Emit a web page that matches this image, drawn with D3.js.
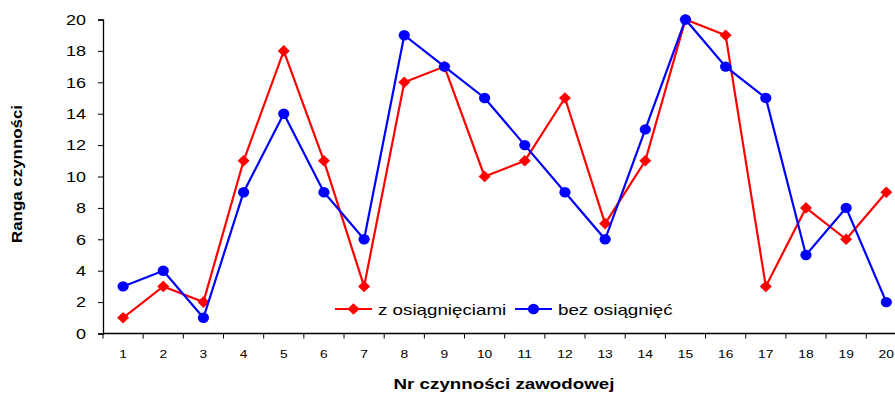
<!DOCTYPE html>
<html>
<head>
<meta charset="utf-8">
<script src="https://cdn.jsdelivr.net/npm/d3@7"></script>
<style>
  html, body { margin: 0; padding: 0; background: #fff; overflow: hidden; }
  svg { display: block; font-family: "Liberation Sans", Arial, sans-serif; }
</style>
</head>
<body>
<svg id="chart" width="895" height="394"></svg>
<script>
// Activity numbers (x axis)
const categories = d3.range(1, 21).map(String);
// Rank of each activity, two groups
const withAchievements = [1, 3, 2, 11, 18, 11, 3, 16, 17, 10, 11, 15, 7, 11, 20, 19, 3, 8, 6, 9];
const withoutAchievements = [3, 4, 1, 9, 14, 9, 6, 19, 17, 15, 12, 9, 6, 13, 20, 17, 15, 5, 8, 2];
const yTicks = [0, 2, 4, 6, 8, 10, 12, 14, 16, 18, 20];
const seriesNames = ["z osiągnięciami", "bez osiągnięć"];

const svg = d3.select("#chart");
const plotLeft = 103, plotRight = 906.4, plotTop = 19.5, plotBottom = 333.5;

// Widen text horizontally (wide Arial look) while keeping its anchor
function widen(sel, k) {
  sel.each(function () {
    const w = this.getComputedTextLength();
    d3.select(this).attr("textLength", w * k).attr("lengthAdjust", "spacingAndGlyphs");
  });
}

const x = d3.scaleBand().domain(categories).range([plotLeft, plotRight]);
const y = d3.scaleLinear().domain([0, 20]).range([plotBottom, plotTop]);

// Y axis
const yAxis = svg.append("g")
  .attr("transform", `translate(${plotLeft},0)`)
  .call(d3.axisLeft(y).tickValues(yTicks).tickSize(5).tickPadding(12));
yAxis.select(".domain").attr("stroke", "#000").attr("stroke-width", 1.3);
yAxis.selectAll(".tick line").attr("stroke", "#000");
yAxis.selectAll("text").attr("font-size", 15).attr("fill", "#000")
  .attr("font-family", "Liberation Sans, Arial, sans-serif");
widen(yAxis.selectAll("text"), 1.2);

// X axis: ticks sit on band boundaries, labels in band centres
const xg = svg.append("g").attr("transform", `translate(0,${plotBottom})`);
xg.append("line").attr("x1", plotLeft).attr("x2", plotRight)
  .attr("stroke", "#000").attr("stroke-width", 1.3);
const bounds = categories.map(c => x(c)).concat([plotRight]);
xg.selectAll("line.tk").data(bounds).enter().append("line")
  .attr("class", "tk")
  .attr("x1", d => d).attr("x2", d => d)
  .attr("y1", 0).attr("y2", 5).attr("stroke", "#000");
const xLabels = xg.selectAll("text").data(categories).enter().append("text")
  .attr("x", d => x(d) + x.bandwidth() / 2)
  .attr("y", 24)
  .attr("text-anchor", "middle")
  .attr("font-size", 11.5)
  .text(d => d);
widen(xLabels, 1.2);

// Axis titles
const xTitle = svg.append("text")
  .attr("x", 504).attr("y", 389)
  .attr("text-anchor", "middle")
  .attr("font-size", 15).attr("font-weight", "bold")
  .text("Nr czynności zawodowej");
widen(xTitle, 1.25);
const yTitle = svg.append("text")
  .attr("transform", "translate(22,174) rotate(-90)")
  .attr("text-anchor", "middle")
  .attr("font-size", 15.5).attr("font-weight", "bold")
  .text("Ranga czynności");
widen(yTitle, 1.09);

const cx = (d, i) => x(categories[i]) + x.bandwidth() / 2;
const line = d3.line().x(cx).y(d => y(d));
// Diamond marker of equal width and height
const diamondPath = "M0,-5.8L6,0L0,5.8L-6,0Z";

function drawSeries(values, color, marker) {
  const g = svg.append("g");
  g.append("path").datum(values)
    .attr("d", line).attr("fill", "none")
    .attr("stroke", color).attr("stroke-width", 2.2);
  if (marker === "diamond") {
    g.selectAll("path.m").data(values).enter().append("path")
      .attr("class", "m")
      .attr("d", diamondPath)
      .attr("transform", (d, i) => `translate(${cx(d, i)},${y(d)})`)
      .attr("fill", color);
  } else {
    g.selectAll("ellipse").data(values).enter().append("ellipse")
      .attr("cx", cx).attr("cy", d => y(d)).attr("rx", 5.6).attr("ry", 5.2)
      .attr("fill", color);
  }
}

drawSeries(withAchievements, "#ff0000", "diamond");
drawSeries(withoutAchievements, "#0000ff", "circle");

// Legend
const legend = svg.append("g").attr("transform", "translate(335,309)");
const items = [
  { name: seriesNames[0], color: "#ff0000", marker: "diamond", x: 0 },
  { name: seriesNames[1], color: "#0000ff", marker: "circle", x: 180 }
];
items.forEach(it => {
  const g = legend.append("g").attr("transform", `translate(${it.x},0)`);
  g.append("line").attr("x1", 0).attr("x2", 37).attr("stroke", it.color).attr("stroke-width", 2.2);
  if (it.marker === "diamond") {
    g.append("path").attr("d", diamondPath).attr("transform", "translate(18.5,0)").attr("fill", it.color);
  } else {
    g.append("ellipse").attr("cx", 18.5).attr("rx", 5.6).attr("ry", 5.2).attr("fill", it.color);
  }
  const t = g.append("text").attr("x", 43).attr("y", 6).attr("font-size", 15).text(it.name);
  widen(t, 1.25);
});
</script>
</body>
</html>
